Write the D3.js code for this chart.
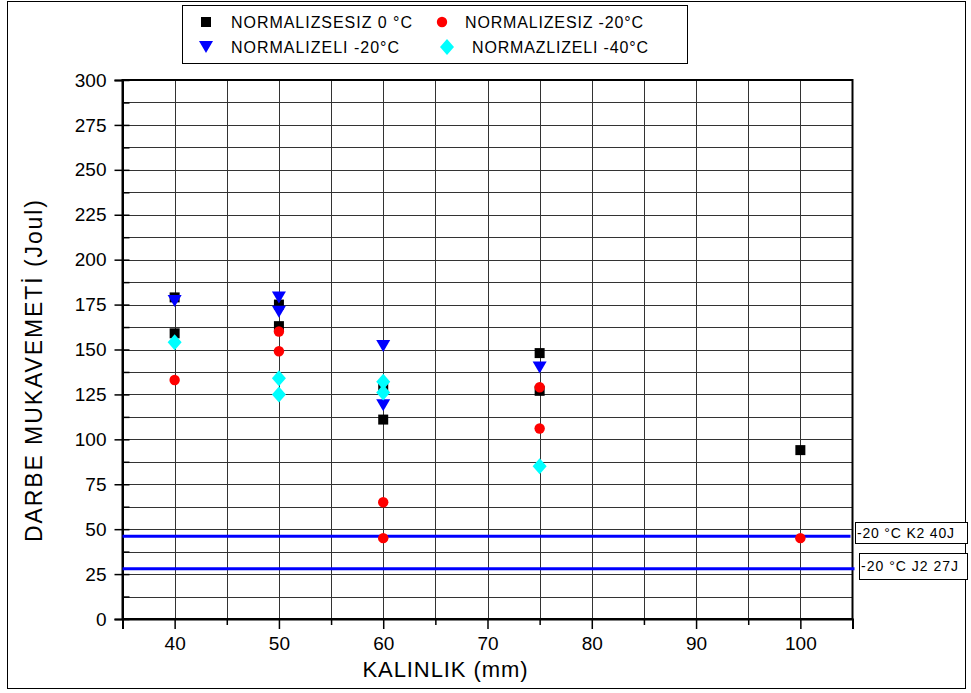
<!DOCTYPE html>
<html><head><meta charset="utf-8">
<script src="https://cdn.jsdelivr.net/npm/d3@7"></script>
<style>body{margin:0;background:#fff}svg{display:block;font-family:Arial,"Liberation Sans",sans-serif}</style>
</head><body>
<svg id="c" width="971" height="693"></svg>
<script>
// ---- data ----
const xTicks = [40, 50, 60, 70, 80, 90, 100];
const yTicks = [0, 25, 50, 75, 100, 125, 150, 175, 200, 225, 250, 275, 300];
const seriesNames = ["NORMALIZSESIZ 0 °C", "NORMALIZESIZ -20°C", "NORMALIZELI -20°C", "NORMAZLIZELI -40°C"];
const blackX = [40, 40, 50, 50, 60, 60, 75, 75, 100];
const blackY = [179, 159, 175, 163, 129, 111, 148, 127, 94];
const redX = [40, 50, 50, 60, 60, 75, 75, 100];
const redY = [133, 160, 149, 65, 45, 129, 106, 45];
const blueX = [40, 50, 50, 60, 60, 75];
const blueY = [177, 179, 171, 152, 119, 140];
const cyanX = [40, 50, 50, 60, 60, 75];
const cyanY = [154, 134, 125, 132, 126, 85];
const limitValues = [46, 28];
const limitLabels = ["-20 °C K2 40J", "-20 °C J2 27J"];

// ---- drawing ----
const svg = d3.select("#c");
const L = 122.5, R = 852.5, T = 80, B = 619;
const x = d3.scaleLinear().domain([35, 105]).range([L, R]);
const y = d3.scaleLinear().domain([0, 300]).range([B, T]);

// outer frame
svg.append("rect").attr("x", 7.5).attr("y", 1.5).attr("width", 958).attr("height", 687)
  .attr("fill", "none").attr("stroke", "#000").attr("stroke-width", 1);

// grid
const g = svg.append("g");
const yGrid = d3.range(12.5, 300, 12.5);
g.selectAll(".hg").data(yGrid).join("line")
  .attr("x1", L).attr("x2", R).attr("y1", d => Math.round(y(d)) + 0.5).attr("y2", d => Math.round(y(d)) + 0.5)
  .attr("stroke", "#333").attr("stroke-width", 1);
const xGrid = d3.range(40, 105, 5);
g.selectAll(".vg").data(xGrid).join("line")
  .attr("y1", T).attr("y2", B).attr("x1", d => Math.round(x(d)) + 0.5).attr("x2", d => Math.round(x(d)) + 0.5)
  .attr("stroke", "#333").attr("stroke-width", 1);

// frame of plot
svg.append("rect").attr("x", L).attr("y", T).attr("width", R - L).attr("height", B - T)
  .attr("fill", "none").attr("stroke", "#000").attr("stroke-width", 2);

// axes
const xAxis = d3.axisBottom(x).tickValues(xTicks).tickSize(10).tickPadding(8).tickFormat(d3.format("d"));
const xa = svg.append("g").attr("transform", `translate(0,${B})`).call(xAxis);
const xMinor = d3.axisBottom(x).tickValues([35, 45, 55, 65, 75, 85, 95, 105]).tickSize(6).tickFormat("");
svg.append("g").attr("transform", `translate(0,${B})`).call(xMinor).select(".domain").remove();
const yAxis = d3.axisLeft(y).tickValues(yTicks).tickSize(8).tickPadding(8);
const ya = svg.append("g").attr("transform", `translate(${L},0)`).call(yAxis);
const yMinorIn = d3.axisRight(y).tickValues(d3.range(0, 301, 12.5)).tickSize(7).tickFormat("");
svg.append("g").attr("transform", `translate(${L},0)`).call(yMinorIn).select(".domain").remove();
[xa, ya].forEach(a => {
  a.select(".domain").attr("stroke-width", 2);
  a.selectAll("text").attr("font-size", 19).attr("fill", "#000");
});
svg.selectAll(".tick line").attr("stroke", "#000").attr("stroke-width", 1.5);

// limit lines
limitValues.forEach((v, i) => {
  svg.append("line").attr("x1", L).attr("x2", R + (i === 0 ? -2 : 2))
    .attr("y1", y(v)).attr("y2", y(v)).attr("stroke", "#0000ff").attr("stroke-width", 3);
});
const boxes = [[855, 522, 112, 21], [859, 553, 108, 26]];
limitLabels.forEach((t, i) => {
  const b = boxes[i];
  svg.append("rect").attr("x", b[0] + 0.5).attr("y", b[1] + 0.5).attr("width", b[2]).attr("height", b[3])
    .attr("fill", "#fff").attr("stroke", "#000").attr("stroke-width", 1);
  svg.append("text").attr("x", b[0] + 2).attr("y", b[1] + b[3] / 2 + 5)
    .attr("font-size", 14).attr("textLength", 97).attr("lengthAdjust", "spacing").text(t);
});

// markers
const sq = d3.symbol().type(d3.symbolSquare).size(100);
const circ = d3.symbol().type(d3.symbolCircle).size(85);
const tri = "M-7,-6L7,-6L0,6Z";
const dia = "M0,-8L7,0L0,8L-7,0Z";
function draw(xs, ys, path, color) {
  svg.append("g").selectAll("path").data(xs.map((d, i) => [d, ys[i]])).join("path")
    .attr("transform", d => `translate(${x(d[0])},${y(d[1])})`)
    .attr("d", path).attr("fill", color);
}
draw(blackX, blackY, sq(), "#000");
draw(redX, redY, circ(), "#ff0000");
draw(blueX, blueY, tri, "#0000ff");
draw(cyanX, cyanY, dia, "#00ffff");

// axis titles
svg.append("text").attr("x", 445).attr("y", 677).attr("text-anchor", "middle")
  .attr("font-size", 22).attr("textLength", 165).attr("lengthAdjust", "spacing").text("KALINLIK (mm)");
svg.append("text").attr("transform", "translate(42,371) rotate(-90)").attr("text-anchor", "middle")
  .attr("font-size", 23).attr("textLength", 342).attr("lengthAdjust", "spacing").text("DARBE MUKAVEMETİ (Joul)");

// legend
svg.append("rect").attr("x", 182.5).attr("y", 5.5).attr("width", 505).attr("height", 58)
  .attr("fill", "#fff").attr("stroke", "#000").attr("stroke-width", 1);
const legPos = [[206, 22, 231, 181], [442, 22, 465, 178], [206, 47, 231, 168], [447, 47, 472, 176]];
const legShapes = [[sq(), "#000"], [circ(), "#ff0000"], [tri, "#0000ff"], [dia, "#00ffff"]];
seriesNames.forEach((n, i) => {
  const p = legPos[i];
  svg.append("path").attr("transform", `translate(${p[0]},${p[1]})`).attr("d", legShapes[i][0]).attr("fill", legShapes[i][1]);
  svg.append("text").attr("x", p[2]).attr("y", p[1] + 6).attr("font-size", 16)
    .attr("textLength", p[3]).attr("lengthAdjust", "spacing").text(n);
});
</script>
</body></html>
